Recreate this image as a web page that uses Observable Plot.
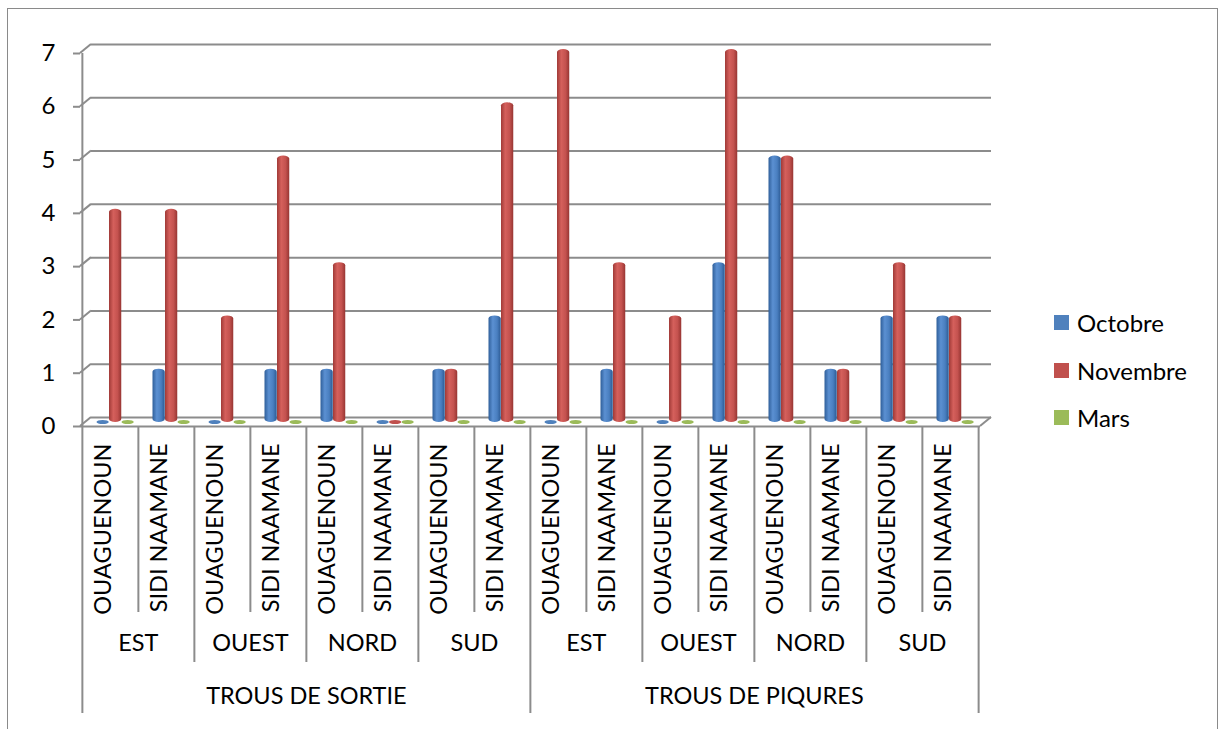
<!DOCTYPE html>
<html><head><meta charset="utf-8">
<script src="https://cdn.jsdelivr.net/npm/d3@7"></script>
<script src="https://cdn.jsdelivr.net/npm/@observablehq/plot@0.6"></script>
<style>
html,body{margin:0;padding:0;background:#fff;overflow:hidden;}
#wrap{position:relative;width:1221px;height:729px;}
#border{position:absolute;left:7px;top:8px;width:1211px;height:760px;border:1.5px solid #8a8a8a;box-sizing:border-box;}
#chart{position:absolute;left:0;top:0;}
#legend{position:absolute;left:1054px;top:0;font-family:Lato,sans-serif;font-size:24px;color:#000;}
.item{position:absolute;left:0;display:flex;align-items:center;white-space:nowrap;height:30px;}
.sw{width:15px;height:15px;margin-right:8px;flex:none;}
#chart [aria-label^="y-axis"] text{fill:#000;}
#chart [aria-label^="y-axis"] line,#chart [aria-label^="y-axis"] path{stroke:#8c8c8c;stroke-width:2px;}
</style></head>
<body><div id="wrap"><div id="border"></div><div id="chart"></div><div id="legend"></div></div>
<script>
// ---- data ----
const topGroups = ["TROUS DE SORTIE", "TROUS DE PIQURES"];
const directions = ["EST", "OUEST", "NORD", "SUD"];
const sites = ["OUAGUENOUN", "SIDI NAAMANE"];
const seriesNames = ["Octobre", "Novembre", "Mars"];
const seriesColors = ["#4F81BD", "#C0504D", "#9BBB59"];
const octobre  = [0, 1, 0, 1, 1, 0, 1, 2, 0, 1, 0, 3, 5, 1, 2, 2];
const novembre = [4, 4, 2, 5, 3, 0, 1, 6, 7, 3, 2, 7, 5, 1, 3, 2];
const mars     = [0, 0, 0, 0, 0, 0, 0, 0, 0, 0, 0, 0, 0, 0, 0, 0];
const yTicks = [0, 1, 2, 3, 4, 5, 6, 7];

// ---- derived tables ----
const cats = topGroups.flatMap(t => directions.flatMap(d => sites.map(s => ({top: t, dir: d, site: s, key: `${t}|${d}|${s}`}))));
const keys = cats.map(c => c.key);
const seriesValues = [octobre, novembre, mars];
const seriesData = seriesValues.map((vals, s) => cats.map((c, i) => ({key: c.key, series: seriesNames[s], value: vals[i]})));
const dirLabels = cats.filter((c, i) => i % 2 === 1).map(c => ({key: c.key, text: c.dir}));
const topLabels = cats.filter((c, i) => i % 8 === 4).map(c => ({key: c.key, text: c.top}));
const minorEdges = keys.filter((k, i) => i % 2 === 1);
const groupEdges = keys.filter((k, i) => i % 2 === 0 && i % 8 !== 0);
const firstEdge = keys.filter((k, i) => i === 0);
const midEdges = keys.filter((k, i) => i % 8 === 0 && i !== 0);
const lastEdge = keys.filter((k, i) => i === keys.length - 1);

// ---- layout ----
const W = 1221, H = 729, ML = 80, MR = 241, MT = 53, MB = 303;
const bw = (W - ML - MR) / keys.length;
const barW = 12.5, barStart = 14.5;
const depthX = 11, depthY = 9;
const grid = "#8c8c8c";
const font = "Lato, sans-serif";
const fs = 23.5;
const gradIds = ["gOct", "gNov", "gMar"];

function depthStubs(index, scales, values, dims) {
  const {y} = scales;
  const g = d3.create("svg:g").attr("stroke", grid).attr("stroke-width", 2).attr("fill", "none");
  const x0 = dims.marginLeft, x1 = dims.width - dims.marginRight;
  for (const v of yTicks) g.append("line").attr("x1", x0).attr("y1", y(v)).attr("x2", x0 + depthX).attr("y2", y(v) - depthY);
  g.append("line").attr("x1", x1).attr("y1", y(0)).attr("x2", x1 + depthX).attr("y2", y(0) - depthY);
  return g.node();
}

const barMarks = seriesData.flatMap((data, s) => {
  const left = barStart + s * barW;
  const right = bw - left - barW;
  return [
    Plot.barY(data.filter(d => d.value > 0), {x: "key", y: "value", fill: `url(#${gradIds[s]})`, insetLeft: left, insetRight: right, dy: -4, rx: barW / 2, ry: 3}),
    Plot.barY(data.filter(d => d.value === 0), {x: "key", y1: 0, y2: 0, fill: seriesColors[s], insetLeft: left, insetRight: right, insetTop: -2, insetBottom: -2, dy: -4, rx: barW / 2, ry: 2})
  ];
});

const svg = Plot.plot({
  width: W, height: H,
  marginLeft: ML, marginRight: MR, marginTop: MT, marginBottom: MB,
  style: {fontFamily: font, fontSize: "24px", color: "#000", background: "transparent", overflow: "visible"},
  x: {domain: keys, padding: 0, axis: null},
  y: {domain: [0, 7], ticks: yTicks, tickFormat: d3.format("d"), tickSize: 7, tickPadding: 18, label: null},
  marks: [
    Plot.ruleY(yTicks, {y: d => d, dy: -depthY, insetLeft: depthX, insetRight: -depthX, stroke: grid, strokeWidth: 2}),
    Plot.ruleY([0], {y: d => d, stroke: grid, strokeWidth: 2}),
    depthStubs,
    Plot.ruleX(firstEdge, {x: d => d, dx: -bw / 2, insetBottom: -287, stroke: grid, strokeWidth: 2}),
    Plot.ruleX(minorEdges, {x: d => d, dx: -bw / 2, insetTop: 374, insetBottom: -186, stroke: grid, strokeWidth: 2}),
    Plot.ruleX(groupEdges, {x: d => d, dx: -bw / 2, insetTop: 374, insetBottom: -236, stroke: grid, strokeWidth: 2}),
    Plot.ruleX(midEdges, {x: d => d, dx: -bw / 2, insetTop: 374, insetBottom: -287, stroke: grid, strokeWidth: 2}),
    Plot.ruleX(lastEdge, {x: d => d, dx: bw / 2, insetTop: 374, insetBottom: -287, stroke: grid, strokeWidth: 2}),
    ...barMarks,
    Plot.text(cats, {x: "key", text: "site", frameAnchor: "bottom", dy: 17, rotate: -90, textAnchor: "end", fontSize: fs, fontFamily: font, fill: "#000"}),
    Plot.text(dirLabels, {x: "key", text: "text", frameAnchor: "bottom", dx: -bw / 2, dy: 224, fontSize: fs, fontFamily: font, fill: "#000"}),
    Plot.text(topLabels, {x: "key", text: "text", frameAnchor: "bottom", dx: -bw / 2, dy: 277, fontSize: fs, fontFamily: font, fill: "#000"})
  ]
});

const gradStops = [
  ["#2f5f9a", "#5b90d2", "#4a7fc0", "#2c5a93"],
  ["#a03a37", "#d5605c", "#c4524f", "#973532"],
  ["#7d9a42", "#b0d06c", "#9bbb59", "#758f3c"]
];
const defs = gradIds.map((id, s) => `<linearGradient id="${id}" x1="0" x2="1" y1="0" y2="0">
<stop offset="0" stop-color="${gradStops[s][0]}"/><stop offset="0.35" stop-color="${gradStops[s][1]}"/>
<stop offset="0.7" stop-color="${gradStops[s][2]}"/><stop offset="1" stop-color="${gradStops[s][3]}"/></linearGradient>`).join("");
svg.insertAdjacentHTML("afterbegin", `<defs>${defs}</defs>`);
document.getElementById("chart").appendChild(svg);

const legend = document.getElementById("legend");
const legendY = [322, 370, 417];
seriesNames.forEach((name, s) => {
  const item = document.createElement("div");
  item.className = "item";
  item.style.top = (legendY[s] - 15) + "px";
  item.innerHTML = `<span class="sw" style="background:${seriesColors[s]}"></span><span>${name}</span>`;
  legend.appendChild(item);
});
</script>
</body></html>
